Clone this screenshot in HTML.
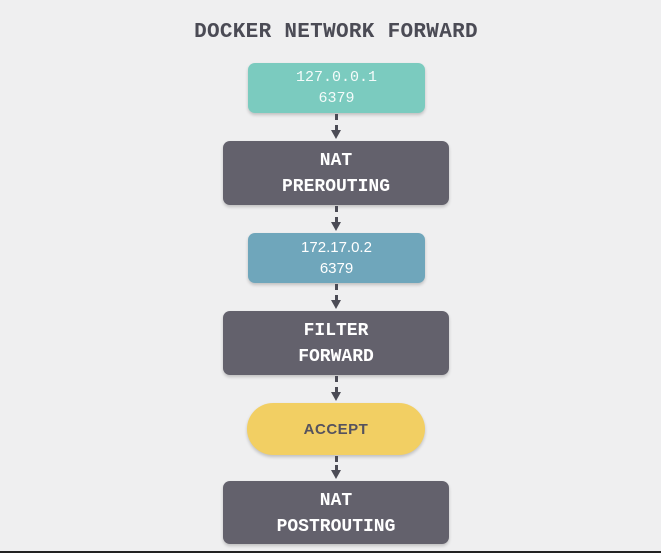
<!DOCTYPE html>
<html><head><meta charset="utf-8"><style>
html,body{margin:0;padding:0}
body{width:661px;height:553px;background:#efeff0;position:relative;overflow:hidden;font-family:"Liberation Mono",monospace}
.t{position:absolute;left:0;width:672px;top:21px;text-align:center;font-size:21px;font-weight:bold;color:#4b4b55;letter-spacing:0.3px}
.b{position:absolute;box-sizing:border-box;display:flex;flex-direction:column;align-items:center;justify-content:center;text-align:center;color:#fff;box-shadow:0 2px 3px rgba(0,0,0,0.2)}
.d{left:223px;width:226px;height:64px;background:#63616c;border-radius:7px;font-size:18px;font-weight:bold;line-height:26px;padding-top:2px}
.s{left:248px;width:177px;height:50px;border-radius:7px;font-size:15px;line-height:21px}
.l{position:absolute;left:335px;width:0;border-left:3px dashed #4b4b55}
.a{position:absolute;left:331px;width:0;height:0;border-left:5.5px solid transparent;border-right:5.5px solid transparent;border-top:9px solid #4b4b55}
.bot{position:absolute;left:0;top:551px;width:661px;height:2px;background:#222}
</style></head><body>
<div class="t">DOCKER NETWORK FORWARD</div>
<div class="b s" style="top:63px;background:#7bcbbf;color:#f4fbfa">127.0.0.1<br>6379</div>
<div class="l" style="top:114px;height:17px"></div><div class="a" style="top:130px"></div>
<div class="b d" style="top:141px">NAT<br>PREROUTING</div>
<div class="l" style="top:206px;height:17px"></div><div class="a" style="top:222px"></div>
<div class="b s" style="top:233px;background:#6fa6bb;font-family:'Liberation Sans',sans-serif;font-size:15px">172.17.0.2<br>6379</div>
<div class="l" style="top:284px;height:17px"></div><div class="a" style="top:300px"></div>
<div class="b d" style="top:311px">FILTER<br>FORWARD</div>
<div class="l" style="top:376px;height:17px"></div><div class="a" style="top:392px"></div>
<div class="b" style="left:247px;top:403px;width:178px;height:52px;border-radius:26px;background:#f2cf63;color:#55525e;font-family:'Liberation Sans',sans-serif;font-size:15px;font-weight:bold;letter-spacing:0.5px">ACCEPT</div>
<div class="l" style="top:456px;height:15px"></div><div class="a" style="top:470px"></div>
<div class="b d" style="top:481px;height:63px">NAT<br>POSTROUTING</div>
<div class="bot"></div>
</body></html>
